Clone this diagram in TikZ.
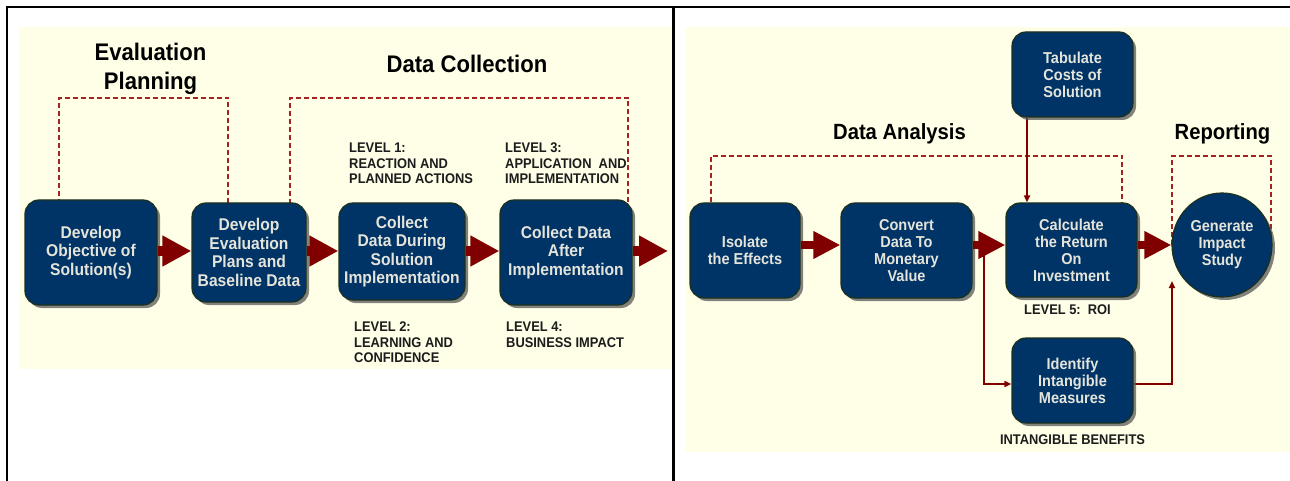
\documentclass[tikz,border=0pt]{standalone}
\usepackage{fontspec}
\setmainfont{Liberation Sans}
\newfontfamily\diagfont[FakeStretch=0.92]{Liberation Sans}
\usetikzlibrary{arrows.meta,shapes.geometric,shadows}
\definecolor{navy}{RGB}{0,51,102}
\definecolor{boxedge}{RGB}{28,48,30}
\definecolor{boxtext}{RGB}{228,228,218}
\definecolor{cream}{RGB}{255,255,232}
\definecolor{arrowred}{RGB}{128,0,0}
\definecolor{dashred}{RGB}{165,35,35}
\definecolor{labelgray}{RGB}{28,28,28}
\pgfdeclarelayer{back}
\pgfdeclarelayer{mid}
\pgfsetlayers{back,mid,main}
\tikzset{
  stepbox/.style={draw=boxedge, line width=1.2pt, fill=navy, rounded corners=14pt,
    text=boxtext, align=center, inner sep=0pt,
    drop shadow={shadow xshift=3pt, shadow yshift=-3pt, fill=black!65, opacity=0.75}},
  leftbox/.style={stepbox, font=\diagfont\bfseries\fontsize{17pt}{18.5pt}\selectfont},
  rightbox/.style={stepbox, font=\diagfont\bfseries\fontsize{15.8pt}{17pt}\selectfont},
  roundbox/.style={ellipse, draw=boxedge, line width=1.2pt, fill=navy, text=boxtext,
    align=center, inner sep=0pt,
    font=\diagfont\bfseries\fontsize{15.8pt}{17pt}\selectfont,
    drop shadow={shadow xshift=3pt, shadow yshift=-3pt, fill=black!65, opacity=0.75}},
  phase/.style={font=\diagfont\bfseries\fontsize{24pt}{28.5pt}\selectfont, align=center,
    inner sep=0pt, text=black, anchor=north},
  phaseR/.style={phase, font=\diagfont\bfseries\fontsize{22pt}{26pt}\selectfont},
  lvl/.style={font=\diagfont\bfseries\fontsize{14pt}{15.5pt}\selectfont, align=left,
    inner sep=0pt, text=labelgray},
  bigarrowL/.style={draw=arrowred, line width=10pt, -{Triangle[length=29pt,width=29pt]}},
  bigarrowR/.style={draw=arrowred, line width=8pt, -{Triangle[length=27pt,width=26pt]}},
  thinarrow/.style={draw=arrowred, line width=2pt, -{Triangle[length=7pt,width=6pt]}},
  bracket/.style={draw=dashred, line width=1.3pt, dash pattern=on 5pt off 3pt},
  frameline/.style={draw=black, line width=2.2pt},
}
\begin{document}
\begin{tikzpicture}[x=1pt,y=-1pt]
\useasboundingbox (0,0) rectangle (1290,481);

% panel backgrounds
\begin{pgfonlayer}{back}
  \fill[cream] (19,27) rectangle (673,369);
  \fill[cream] (686,27) rectangle (1290,452);
\end{pgfonlayer}

% reference rows and bends
\coordinate (rowL) at (0,251);
\coordinate (rowR) at (0,245);
\coordinate (brow) at (0,384);
\coordinate (outL) at (668,251);
\coordinate (roiin) at (1027,0);
\coordinate (split) at (984,245);
\coordinate (genin) at (1172,281);
\coordinate (epL) at (59,98);
\coordinate (epR) at (228,98);
\coordinate (dcL) at (290,98);
\coordinate (dcR) at (628,98);
\coordinate (daL) at (711,156);
\coordinate (daR) at (1122,156);
\coordinate (rpL) at (1172,156);
\coordinate (rpR) at (1271,156);

% phase titles
\node[phase] (tEP) at (150.5,43) {Evaluation\\Planning};
\node[phase] (tDC) at (467,55) {Data Collection};
\node[phaseR] (tDA) at (899.5,123) {Data Analysis};
\node[phaseR] (tRP) at (1222.5,123) {Reporting};

% left panel steps
\node[leftbox, minimum width=132pt, minimum height=105pt] (n1) at (91,252.5) {Develop\\Objective of\\Solution(s)};
\node[leftbox, minimum width=114pt, minimum height=99pt] (n2) at (249,252.5) {Develop\\Evaluation\\Plans and\\Baseline Data};
\node[leftbox, minimum width=126pt, minimum height=97pt] (n3) at (402,251.5) {Collect\\Data During\\Solution\\Implementation};
\node[leftbox, minimum width=132pt, minimum height=105pt] (n4) at (566,252.5) {Collect Data\\After\\Implementation};

% right panel steps
\node[rightbox, minimum width=110pt, minimum height=95pt] (iso) at (745,250.5) {Isolate\\the Effects};
\node[rightbox, minimum width=131pt, minimum height=95pt] (conv) at (906.5,250.5) {Convert\\Data To\\Monetary\\Value};
\node[rightbox, minimum width=131pt, minimum height=94pt] (calc) at (1071.5,250) {Calculate\\the Return\\On\\Investment};
\node[rightbox, minimum width=121pt, minimum height=85pt] (tab) at (1072.5,74.5) {Tabulate\\Costs of\\Solution};
\node[rightbox, minimum width=121pt, minimum height=85pt] (ident) at (1072.5,380.5) {Identify\\Intangible\\Measures};
\node[roundbox, minimum width=100pt, minimum height=104pt] (gen) at (1222,245) {Generate\\Impact\\Study};

% level captions
\node[lvl, anchor=north west] (l1) at (349,143) {LEVEL 1:\\REACTION AND\\PLANNED ACTIONS};
\node[lvl, anchor=north west] (l3) at (505,143) {LEVEL 3:\\APPLICATION\ \ AND\\IMPLEMENTATION};
\node[lvl, anchor=north west] (l2) at (354,322) {LEVEL 2:\\LEARNING AND\\CONFIDENCE};
\node[lvl, anchor=north west] (l4) at (506,322) {LEVEL 4:\\BUSINESS IMPACT};
\node[lvl, anchor=north] (l5) at (1067.5,305) {LEVEL 5:\ \ ROI};
\node[lvl, anchor=north] (lib) at (1072.5,435) {INTANGIBLE BENEFITS};

% phase brackets and thin connectors
\begin{pgfonlayer}{mid}
  \draw[bracket] (n1.center -| epL) -- (epL) -- (epR) -- (n2.center -| epR);
  \draw[bracket] (n2.center -| dcL) -- (dcL) -- (dcR) -- (n4.center -| dcR);
  \draw[bracket] (iso.center -| daL) -- (daL) -- (daR) -- (calc.center -| daR);
  \draw[bracket] (gen.center -| rpL) -- (rpL) -- (rpR) -- (gen.center -| rpR);
  \draw[thinarrow] (tab.south -| roiin) -- (calc.north -| roiin);
  \draw[thinarrow] (split) |- (ident.west |- brow);
  \draw[thinarrow] (ident.east |- brow) -| (genin);
\end{pgfonlayer}

% main flow arrows
\draw[bigarrowL] (n1.east |- rowL) -- (n2.west |- rowL);
\draw[bigarrowL] (n2.east |- rowL) -- (n3.west |- rowL);
\draw[bigarrowL] (n3.east |- rowL) -- (n4.west |- rowL);
\draw[bigarrowL] (n4.east |- rowL) -- (outL);
\draw[bigarrowR] (iso.east |- rowR) -- (conv.west |- rowR);
\draw[bigarrowR] (conv.east |- rowR) -- (calc.west |- rowR);
\draw[bigarrowR] (calc.east |- rowR) -- (gen.west);

% table frame
\draw[frameline] (7,481) -- (7,7) -- (1290,7);
\draw[frameline] (673.5,7) -- (673.5,481);
\end{tikzpicture}
\end{document}
